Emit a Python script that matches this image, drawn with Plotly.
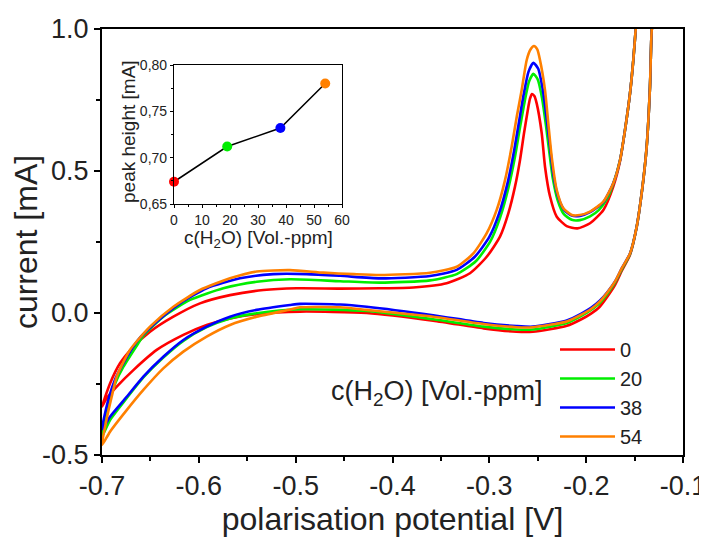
import plotly.graph_objects as go

FONT = "Arial, Liberation Sans, sans-serif"
TXT = "#222222"

# ---------------- main chart data (polarisation potential [V], current [mA]) -------------
series_names = ["0", "20", "38", "54"]
series_colors = ["#FF0000", "#00EE00", "#0000FF", "#FF8000"]

# 0 Vol.-ppm (red)
x0_up = [-0.700, -0.6917, -0.6814, -0.6676, -0.6504, -0.6263, -0.5988, -0.5678, -0.5333, -0.4989,
         -0.4541, -0.4129, -0.3785, -0.3441, -0.3200, -0.3027, -0.2890, -0.2804, -0.2735, -0.2683,
         -0.2642, -0.2597, -0.2580, -0.2560, -0.2535, -0.2511, -0.2459, -0.2425, -0.2373, -0.2304,
         -0.2201, -0.2091, -0.1960, -0.1822, -0.1720, -0.1650, -0.1599, -0.1547, -0.1513, -0.1489, -0.1470]
y0_up = [-0.330, -0.248, -0.177, -0.119, -0.066, -0.013, 0.034, 0.063, 0.081, 0.087,
         0.086, 0.087, 0.090, 0.105, 0.140, 0.198, 0.269, 0.351, 0.445, 0.539,
         0.633, 0.726, 0.755, 0.771, 0.764, 0.738, 0.633, 0.515, 0.410, 0.339,
         0.306, 0.298, 0.316, 0.363, 0.445, 0.535, 0.644, 0.774, 0.891, 0.996, 1.060]
x0_dn = [-0.1300, -0.1323, -0.1341, -0.1375, -0.1427, -0.1478, -0.1547, -0.1633, -0.1700, -0.1780,
         -0.1860, -0.1950, -0.2050, -0.2200, -0.2550, -0.2720, -0.3060, -0.3580, -0.4266, -0.4955,
         -0.5402, -0.5678, -0.5919, -0.6160, -0.6435, -0.6676, -0.6848, -0.6952, -0.700]
y0_dn = [1.060, 0.996, 0.797, 0.586, 0.421, 0.304, 0.205, 0.148, 0.100, 0.058,
         0.022, -0.002, -0.022, -0.045, -0.066, -0.066, -0.054, -0.027, 0.000, 0.005,
         -0.004, -0.019, -0.042, -0.077, -0.130, -0.201, -0.259, -0.300, -0.330]

# 20 Vol.-ppm (green)
x20_up = [-0.700, -0.693, -0.686, -0.678, -0.6628, -0.6573, -0.6367, -0.6091, -0.5747, -0.5402,
          -0.5058, -0.4541, -0.4129, -0.3613, -0.3337, -0.3140, -0.2990, -0.2890, -0.2800, -0.2735,
          -0.2685, -0.2635, -0.2590, -0.2545, -0.2500, -0.2455, -0.2415, -0.2380, -0.2345, -0.2295,
          -0.2230, -0.2149, -0.2064, -0.1960, -0.1870, -0.1780, -0.1720, -0.1650, -0.1599, -0.1547,
          -0.1513, -0.1489, -0.1470]
y20_up = [-0.435, -0.320, -0.245, -0.190, -0.108, -0.080, -0.013, 0.046, 0.087, 0.110,
          0.119, 0.112, 0.107, 0.115, 0.137, 0.182, 0.252, 0.335, 0.445, 0.550,
          0.650, 0.745, 0.815, 0.842, 0.822, 0.755, 0.660, 0.565, 0.475, 0.398,
          0.348, 0.328, 0.327, 0.340, 0.362, 0.405, 0.455, 0.539, 0.644, 0.774,
          0.891, 0.996, 1.060]
x20_dn = [-0.1300, -0.1323, -0.1341, -0.1375, -0.1427, -0.1478, -0.1547, -0.1633, -0.1700, -0.1780,
          -0.1860, -0.1950, -0.2050, -0.2200, -0.2550, -0.2720, -0.3060, -0.3580, -0.4266, -0.4955,
          -0.5402, -0.5678, -0.5919, -0.6160, -0.6367, -0.6573, -0.6745, -0.6917, -0.700]
y20_dn = [1.060, 0.996, 0.797, 0.586, 0.421, 0.304, 0.208, 0.153, 0.108, 0.068,
          0.035, 0.011, -0.010, -0.035, -0.058, -0.058, -0.048, -0.022, 0.007, 0.013,
          -0.001, -0.019, -0.050, -0.098, -0.157, -0.227, -0.300, -0.377, -0.435]

# 38 Vol.-ppm (blue)
x38_up = [-0.700, -0.693, -0.686, -0.678, -0.6628, -0.6435, -0.6194, -0.5919, -0.5575, -0.5231,
          -0.4886, -0.4541, -0.4129, -0.3613, -0.3337, -0.3150, -0.3000, -0.2900, -0.2810, -0.2745,
          -0.2695, -0.2645, -0.2595, -0.2545, -0.2495, -0.2450, -0.2410, -0.2375, -0.2340, -0.2290,
          -0.2225, -0.2149, -0.2064, -0.1960, -0.1823, -0.1720, -0.1650, -0.1599, -0.1547, -0.1513,
          -0.1489, -0.1470]
y38_up = [-0.410, -0.300, -0.230, -0.177, -0.095, -0.031, 0.034, 0.087, 0.122, 0.137,
          0.137, 0.131, 0.122, 0.130, 0.152, 0.198, 0.268, 0.350, 0.460, 0.570,
          0.670, 0.770, 0.850, 0.881, 0.860, 0.790, 0.690, 0.590, 0.490, 0.410,
          0.362, 0.343, 0.342, 0.355, 0.390, 0.457, 0.539, 0.644, 0.774, 0.891,
          0.996, 1.060]
x38_dn = [-0.1300, -0.1323, -0.1341, -0.1375, -0.1427, -0.1478, -0.1547, -0.1633, -0.1700, -0.1780,
          -0.1860, -0.1950, -0.2050, -0.2200, -0.2550, -0.2720, -0.3060, -0.3580, -0.4266, -0.4541,
          -0.4955, -0.5058, -0.5402, -0.5678, -0.5919, -0.6160, -0.6367, -0.6573, -0.6745, -0.6917, -0.700]
y38_dn = [1.060, 0.996, 0.797, 0.586, 0.421, 0.304, 0.210, 0.157, 0.112, 0.074,
          0.043, 0.018, -0.002, -0.026, -0.048, -0.046, -0.035, -0.008, 0.022, 0.030,
          0.032, 0.028, 0.011, -0.013, -0.048, -0.095, -0.154, -0.224, -0.295, -0.365, -0.410]

# 54 Vol.-ppm (orange)
x54_up = [-0.700, -0.695, -0.690, -0.6848, -0.6711, -0.6504, -0.6263, -0.5988, -0.5678, -0.5402,
          -0.5058, -0.4714, -0.4400, -0.4129, -0.3613, -0.3337, -0.3165, -0.3027, -0.2924, -0.2838,
          -0.2769, -0.2717, -0.2666, -0.2614, -0.2575, -0.2539, -0.2505, -0.2477, -0.2425, -0.2391,
          -0.2356, -0.2304, -0.2236, -0.2149, -0.2064, -0.1960, -0.1823, -0.1720, -0.1650, -0.1599,
          -0.1547, -0.1513, -0.1489, -0.1470]
y54_up = [-0.465, -0.370, -0.295, -0.224, -0.130, -0.048, 0.022, 0.081, 0.122, 0.146,
          0.151, 0.142, 0.137, 0.134, 0.142, 0.163, 0.210, 0.281, 0.363, 0.468,
          0.586, 0.691, 0.785, 0.891, 0.928, 0.940, 0.928, 0.891, 0.785, 0.668,
          0.550, 0.433, 0.369, 0.345, 0.345, 0.357, 0.392, 0.457, 0.539, 0.644,
          0.774, 0.891, 0.996, 1.060]
x54_dn = [-0.1300, -0.1323, -0.1341, -0.1375, -0.1427, -0.1478, -0.1547, -0.1633, -0.1700, -0.1780,
          -0.1860, -0.1950, -0.2050, -0.2200, -0.2550, -0.2720, -0.3060, -0.3580, -0.4266, -0.4541,
          -0.4955, -0.5058, -0.5402, -0.5678, -0.5919, -0.6160, -0.6367, -0.6573, -0.6745, -0.6917, -0.700]
y54_dn = [1.060, 0.996, 0.797, 0.586, 0.421, 0.304, 0.210, 0.157, 0.112, 0.073,
          0.040, 0.014, -0.006, -0.030, -0.050, -0.050, -0.039, -0.013, 0.011, 0.020,
          0.020, 0.012, -0.013, -0.042, -0.083, -0.136, -0.195, -0.271, -0.342, -0.418, -0.465]

x_tickvals = [-0.7, -0.6, -0.5, -0.4, -0.3, -0.2, -0.1]
x_ticktext = ["-0.7", "-0.6", "-0.5", "-0.4", "-0.3", "-0.2", "-0.1"]
y_tickvals = [-0.5, 0.0, 0.5, 1.0]
y_ticktext = ["-0.5", "0.0", "0.5", "1.0"]

# ---------------- inset data ----------------
inset_conc = [0, 19, 38, 54]
inset_peak = [0.674, 0.712, 0.732, 0.780]
inset_xticks = [0, 10, 20, 30, 40, 50, 60]
inset_yticks = [0.65, 0.70, 0.75, 0.80]
inset_yticktext = ["0,65", "0,70", "0,75", "0,80"]

fig = go.Figure()

ups = [(x0_up, y0_up), (x20_up, y20_up), (x38_up, y38_up), (x54_up, y54_up)]
dns = [(x0_dn, y0_dn), (x20_dn, y20_dn), (x38_dn, y38_dn), (x54_dn, y54_dn)]
for name, col, (xu, yu), (xd, yd) in zip(series_names, series_colors, ups, dns):
    fig.add_trace(go.Scatter(
        x=xu + xd, y=yu + yd, mode="lines", name=name,
        line=dict(color=col, width=2.6, shape="spline", smoothing=0.6),
        xaxis="x", yaxis="y", showlegend=True))

# inset
fig.add_trace(go.Scatter(x=inset_conc, y=inset_peak, mode="lines", showlegend=False,
                         line=dict(color="black", width=1.5), xaxis="x2", yaxis="y2"))
fig.add_trace(go.Scatter(x=inset_conc, y=inset_peak, mode="markers", showlegend=False,
                         marker=dict(color=series_colors, size=10), cliponaxis=False,
                         xaxis="x2", yaxis="y2"))

# page has an 8px body margin: figure coordinates = page coordinates - 8
OFF = 8
W, H = 707 - OFF, 537 - OFF
PL, PR, PT, PB = 102, 683, 29, 455          # plot area in page pixels
L, R, T, B = PL - OFF, PR - OFF, PT - OFF, PB - OFF
def px_x(p):
    return (p - PL) / (PR - PL)
def px_y(p):
    return (PB - p) / (PB - PT)

axis_common = dict(showline=True, linecolor="black", linewidth=2, mirror=True, automargin=False,
                   showgrid=False, zeroline=False, ticks="outside", tickcolor="black",
                   tickwidth=1.5, ticklen=6)

fig.update_layout(
    width=W, height=H,
    margin=dict(l=L, r=W - R, t=T, b=H - B, pad=0),
    paper_bgcolor="white", plot_bgcolor="white",
    font=dict(family=FONT, color=TXT),
    xaxis=dict(range=[-0.7, -0.1], tickvals=x_tickvals, ticktext=x_ticktext,
               tickfont=dict(size=27, color=TXT),
               minor=dict(ticks="outside", dtick=0.05, tick0=-0.7, ticklen=4, tickwidth=1.5, tickcolor="black"),
               title=dict(text="polarisation potential [V]", font=dict(size=32, color=TXT), standoff=3),
               **axis_common),
    yaxis=dict(range=[-0.5, 1.0], tickvals=y_tickvals, ticktext=y_ticktext,
               tickfont=dict(size=27, color=TXT),
               minor=dict(ticks="outside", dtick=0.25, tick0=-0.5, ticklen=4, tickwidth=1.5, tickcolor="black"),
               title=dict(text="current [mA]", font=dict(size=32, color=TXT), standoff=8),
               **axis_common),
    xaxis2=dict(domain=[px_x(174), px_x(342)], anchor="y2", range=[0, 60], tickvals=inset_xticks,
                tickfont=dict(size=14, color=TXT), automargin=False,
                showline=True, linecolor="black", linewidth=1.2, mirror=True, showgrid=False,
                zeroline=False, ticks="outside", ticklen=3, tickwidth=1, tickcolor="black",
                minor=dict(ticks="outside", dtick=5, ticklen=2, tickwidth=1, tickcolor="black")),
    yaxis2=dict(domain=[px_y(204), px_y(65)], anchor="x2", range=[0.65, 0.80],
                tickvals=inset_yticks, ticktext=inset_yticktext,
                tickfont=dict(size=14, color=TXT), automargin=False,
                showline=True, linecolor="black", linewidth=1.2, mirror=True, showgrid=False,
                zeroline=False, ticks="outside", ticklen=3, tickwidth=1, tickcolor="black",
                minor=dict(ticks="outside", dtick=0.025, ticklen=2, tickwidth=1, tickcolor="black")),
    legend=dict(x=px_x(555), y=px_y(330), xanchor="left", yanchor="top",
                font=dict(size=20, color=TXT), bgcolor="rgba(0,0,0,0)",
                itemwidth=55, tracegroupgap=0),
    annotations=[
        dict(text="c(H<sub>2</sub>O) [Vol.-ppm]", xref="paper", yref="paper",
             x=px_x(545), y=px_y(393), xanchor="right", yanchor="middle",
             showarrow=False, font=dict(size=27, color=TXT)),
        dict(text="c(H<sub>2</sub>O) [Vol.-ppm]", xref="paper", yref="paper",
             x=px_x(258), y=px_y(239), xanchor="center", yanchor="middle",
             showarrow=False, font=dict(size=19, color=TXT)),
        dict(text="peak height [mA]", xref="paper", yref="paper", textangle=-90,
             x=px_x(128), y=px_y(132), xanchor="center", yanchor="middle",
             showarrow=False, font=dict(size=19, color=TXT)),
    ],
)

fig.write_html("out.html")
